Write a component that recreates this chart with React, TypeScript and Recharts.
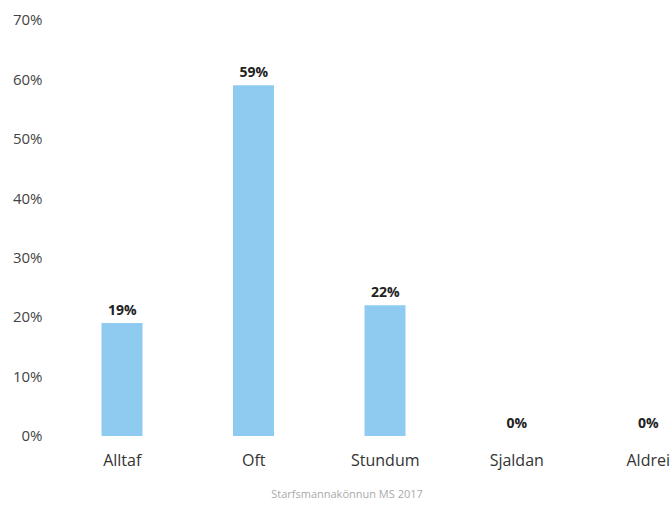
import React from "react";
import { ComposedChart, Bar, Line, XAxis, YAxis, LabelList } from "recharts";

const categories = ["Alltaf", "Oft", "Stundum", "Sjaldan", "Aldrei"];
const values = [19, 59, 22, 0, 0];
const yTicks = [0, 10, 20, 30, 40, 50, 60, 70];
const caption = "Starfsmannakönnun MS 2017";

const data = categories.map((name, i) => ({ name, value: values[i] }));

const FONT = "'Open Sans', 'Noto Sans', sans-serif";

export default function App() {
  return (
    <div
      style={{
        position: "fixed",
        left: 0,
        top: 0,
        width: 670,
        height: 507,
        overflow: "hidden",
        background: "#fff",
        fontFamily: FONT,
      }}
    >
      <ComposedChart
        width={730}
        height={507}
        data={data}
        margin={{ top: 20, right: 16, bottom: 41, left: 6.5 }}
        barSize={41}
      >
        <XAxis
          dataKey="name"
          axisLine={false}
          tickLine={false}
          tickSize={0}
          tickMargin={19}
          height={30}
          interval={0}
          tick={{ fill: "#333", fontSize: 16, fontFamily: FONT }}
        />
        <YAxis
          domain={[0, 70]}
          ticks={yTicks}
          width={50}
          axisLine={false}
          tickLine={false}
          tickSize={0}
          tickMargin={14}
          tickFormatter={(v) => `${v}%`}
          tick={{ fill: "#444", fontSize: 15, fontFamily: FONT }}
        />
        <Bar dataKey="value" fill="#8FCBF1" isAnimationActive={false} />
        <Line
          dataKey="value"
          stroke="none"
          strokeOpacity={0}
          dot={false}
          activeDot={false}
          isAnimationActive={false}
        >
          <LabelList
            dataKey="value"
            position="top"
            offset={8}
            formatter={(v) => `${v}%`}
            style={{ fill: "#222", fontSize: 14, fontWeight: 700, fontFamily: FONT }}
          />
        </Line>
      </ComposedChart>
      <div
        style={{
          position: "absolute",
          left: 0,
          width: 694,
          top: 486,
          textAlign: "center",
          fontSize: 11,
          color: "#aaa",
          fontFamily: FONT,
        }}
      >
        {caption}
      </div>
    </div>
  );
}
